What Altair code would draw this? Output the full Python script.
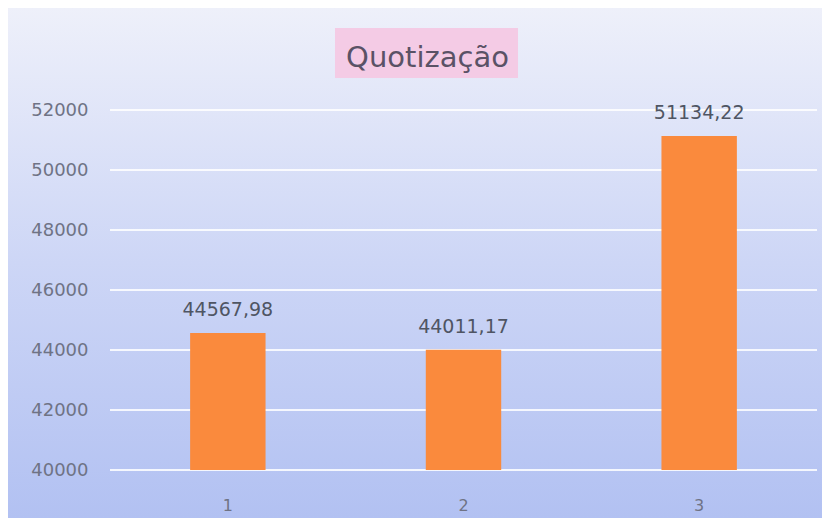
import altair as alt
import pandas as pd

categories = ["1", "2", "3"]
values = [44567.98, 44011.17, 51134.22]
labels = ["44567,98", "44011,17", "51134,22"]
title_text = "Quotização"
y_ticks = [40000, 42000, 44000, 46000, 48000, 50000, 52000]

df = pd.DataFrame({"cat": categories, "val": values, "label": labels})
grid_df = pd.DataFrame({"tick": y_ticks})

W, H = 707, 360
FONT = "DejaVu Sans"
yscale = alt.Scale(domain=[40000, 52000], zero=False, nice=False)
yaxis = alt.Axis(values=y_ticks, format="d", labelFont=FONT, labelFontSize=18,
                 labelColor="#6f7385", domain=False, ticks=False, labelPadding=22,
                 grid=False, zindex=1)

bg = alt.Chart(alt.Data(values=[{}])).mark_rect(
    color=alt.Gradient(
        gradient="linear",
        stops=[alt.GradientStop(color="#eef0fa", offset=0),
               alt.GradientStop(color="#cdd6f6", offset=0.5),
               alt.GradientStop(color="#b2c1f2", offset=1)],
        x1=0, x2=0, y1=0, y2=1),
).encode(x=alt.value(-102), x2=alt.value(W + 5), y=alt.value(-102), y2=alt.value(H + 48))

title_box = alt.Chart(alt.Data(values=[{}])).mark_rect(color="#f4cbe5").encode(
    x=alt.value(225), x2=alt.value(408), y=alt.value(-82), y2=alt.value(-32))

title = alt.Chart(alt.Data(values=[{"t": title_text}])).mark_text(
    font=FONT, fontSize=29, color="#5a5266", align="center", baseline="alphabetic"
).encode(x=alt.value(317.5), y=alt.value(-43), text="t:N")

grid = alt.Chart(grid_df).mark_rule(color="#ffffff", strokeWidth=2, opacity=0.85).encode(
    y=alt.Y("tick:Q", scale=yscale, axis=yaxis, title=None),
    x=alt.value(0), x2=alt.value(W))

xenc = alt.X("cat:O", sort=categories, title=None,
             scale=alt.Scale(paddingInner=0.68, paddingOuter=0.34),
             axis=alt.Axis(labelAngle=0, labelFont=FONT, labelFontSize=16, labelColor="#6f7385",
                           domain=False, ticks=False, labelPadding=27, grid=False, zindex=1))
yenc = alt.Y("val:Q", title=None, scale=yscale, axis=yaxis)

bars = alt.Chart(df).mark_bar(color="#fa8a3d").encode(
    x=xenc, y=yenc, y2=alt.datum(40000))

text = alt.Chart(df).mark_text(
    font=FONT, fontSize=19, color="#4f5563", baseline="alphabetic", dy=-17
).encode(x=alt.X("cat:O", sort=categories), y=alt.Y("val:Q"), text="label:N")

chart = alt.layer(bg, title_box, title, grid, bars, text).properties(
    width=W, height=H,
    padding={"left": 102, "top": 102, "right": 5, "bottom": 48},
    autosize=alt.AutoSizeParams(type="none"),
).configure_view(stroke=None).configure(background="#f6f7fb")

chart.save("out.html", embed_options={"renderer": "svg", "actions": False})
